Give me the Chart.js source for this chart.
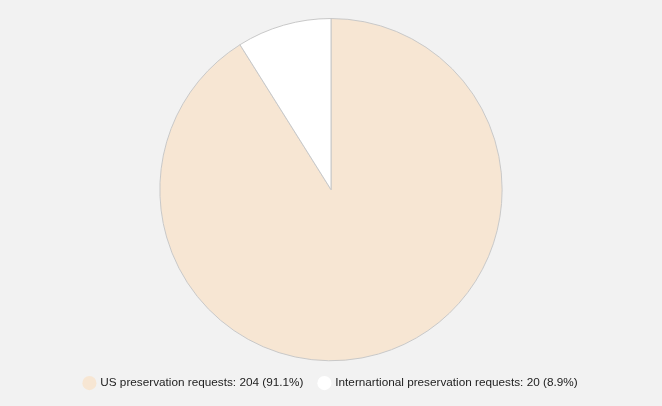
<!DOCTYPE html>
<html><head><meta charset="utf-8">
<script src="https://cdn.jsdelivr.net/npm/chart.js@4/dist/chart.umd.min.js"></script>
<style>html,body{margin:0;padding:0;background:#f2f2f2;}#wrap{width:662px;height:406px;}</style>
</head><body><div id="wrap"><canvas id="c"></canvas></div>
<script>
const categories = ["US preservation requests", "Internartional preservation requests"];
const values = [204, 20];
const colors = ["#f7e6d3", "#ffffff"];
const total = values.reduce((a,b)=>a+b,0);
const labels = categories.map((c,i)=>`${c}: ${values[i]} (${(values[i]/total*100).toFixed(1)}%)`);
new Chart(document.getElementById('c'), {
  type: 'pie',
  data: { labels: labels, datasets: [{ data: values, backgroundColor: colors, borderColor: '#c8c8c8', borderWidth: 1 }] },
  options: {
    responsive: true, maintainAspectRatio: false, animation: false,
    layout: { padding: { top: 18, bottom: 7 } },
    plugins: {
      legend: { position: 'bottom', labels: {
        usePointStyle: true, pointStyle: 'circle', boxWidth: 10, boxHeight: 10,
        color: '#222', font: { family: 'Liberation Sans, Arial', size: 11.75 }, padding: 16,
        generateLabels: (chart) => chart.data.labels.map((t, i) => ({
          text: t, fillStyle: colors[i], strokeStyle: colors[i], lineWidth: 0,
          pointStyle: 'circle', hidden: false, index: i, fontColor: '#222'
        }))
      } },
      tooltip: { enabled: false }
    }
  }
});
</script></body></html>
